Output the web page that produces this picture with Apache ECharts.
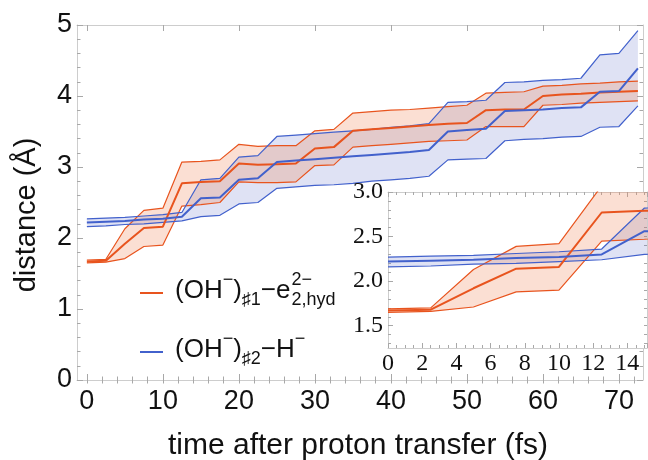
<!DOCTYPE html>
<html><head><meta charset="utf-8">
<script src="https://cdn.jsdelivr.net/npm/echarts@6/dist/echarts.min.js"></script>
<style>html,body{margin:0;padding:0;background:#fff}#c{width:648px;height:460px}</style>
</head><body><div id="c"></div>
<script>
// time after proton transfer (fs)
const times = [0, 2.5, 5, 7.5, 10, 12.5, 15, 17.5, 20, 22.5, 25, 27.5, 30, 32.5, 35, 37.5, 40, 42.5, 45, 47.5, 50, 52.5, 55, 57.5, 60, 62.5, 65, 67.5, 70, 72.5];
// (OH-)#1 - e2,hyd distance: mean and band
const e2Mean  = [1.67, 1.68, 1.92, 2.14, 2.16, 2.77, 2.79, 2.80, 3.05, 3.03, 3.04, 3.05, 3.26, 3.28, 3.51, 3.53, 3.55, 3.57, 3.59, 3.61, 3.62, 3.80, 3.81, 3.81, 4.00, 4.02, 4.03, 4.05, 4.06, 4.07];
const e2Upper = [1.69, 1.70, 2.13, 2.39, 2.42, 3.07, 3.08, 3.10, 3.32, 3.29, 3.30, 3.30, 3.51, 3.53, 3.76, 3.78, 3.80, 3.81, 3.83, 3.85, 3.87, 4.04, 4.05, 4.06, 4.14, 4.15, 4.17, 4.18, 4.20, 4.21];
const e2Lower = [1.65, 1.66, 1.71, 1.88, 1.90, 2.45, 2.47, 2.50, 2.79, 2.78, 2.78, 2.79, 3.02, 3.03, 3.28, 3.30, 3.32, 3.34, 3.36, 3.37, 3.38, 3.57, 3.57, 3.57, 3.87, 3.88, 3.90, 3.91, 3.92, 3.93];
// (OH-)#2 - H- distance: mean and band
const hMean  = [2.22, 2.23, 2.24, 2.26, 2.27, 2.30, 2.56, 2.57, 2.82, 2.84, 3.07, 3.09, 3.11, 3.13, 3.15, 3.17, 3.19, 3.21, 3.24, 3.50, 3.52, 3.54, 3.79, 3.80, 3.81, 3.83, 3.84, 4.06, 4.07, 4.39];
const hUpper = [2.27, 2.28, 2.29, 2.31, 2.33, 2.36, 2.82, 2.84, 3.14, 3.16, 3.43, 3.45, 3.47, 3.49, 3.51, 3.53, 3.56, 3.58, 3.61, 3.91, 3.92, 3.94, 4.19, 4.20, 4.22, 4.23, 4.25, 4.58, 4.60, 4.92];
const hLower = [2.16, 2.17, 2.19, 2.20, 2.22, 2.24, 2.30, 2.32, 2.48, 2.50, 2.70, 2.72, 2.74, 2.75, 2.77, 2.80, 2.82, 2.84, 2.87, 3.10, 3.11, 3.12, 3.37, 3.39, 3.40, 3.42, 3.43, 3.56, 3.57, 3.86];
// tick labels
const xTickLabels = [0, 10, 20, 30, 40, 50, 60, 70];
const yTickLabels = [0, 1, 2, 3, 4, 5];
const insetXTickLabels = [0, 2, 4, 6, 8, 10, 12, 14];
const insetYTickLabels = [1.5, 2.0, 2.5, 3.0];

const ORANGE = '#e8541e', BLUE = '#4261cc';
const ORANGE_FILL = 'rgba(239,135,91,0.27)', BLUE_FILL = 'rgba(95,110,200,0.2)';
const FRAME = '#cdcdcd', TICK = '#a8a8a8';
const SANS = '"Liberation Sans", Arial, sans-serif';
const SERIF = '"Liberation Serif", "Times New Roman", serif';

const xMinor = []; for (let v = 0; v <= 72; v += 2) xMinor.push(v);
const inYMinor = []; for (let k = 13; k <= 30; k++) inYMinor.push(k / 10);

function frameX(grid, pos, major, minor, extra) {
  const base = {
    type: 'value', gridIndex: grid, position: pos, splitLine: {show: false},
    axisLine: {show: true, onZero: false, lineStyle: {color: FRAME, width: 1}},
    axisLabel: {show: false}
  };
  return [
    Object.assign({}, base, {axisTick: {show: true, inside: true, length: 6, lineStyle: {color: TICK}, customValues: major}}, extra),
    Object.assign({}, base, {axisLine: {show: false}, axisTick: {show: true, inside: true, length: 3.5, lineStyle: {color: TICK}, customValues: minor}}, extra, {axisLabel: {show: false}})
  ];
}

const mainX = {min: -1.3, max: 73.17};

const xAxes = [];
xAxes.push(...frameX(0, 'bottom', xTickLabels, xMinor, Object.assign({}, mainX, {
  axisLabel: {show: true, customValues: xTickLabels, fontSize: 27, fontFamily: SANS, color: '#111', margin: 8}
})));
xAxes.push(...frameX(0, 'top', xTickLabels, xMinor, mainX));
xAxes.push({
  type: 'value', gridIndex: 1, position: 'bottom', min: 0, max: 15.15, interval: 2, z: 12,
  splitLine: {show: false},
  axisLine: {show: true, onZero: false, lineStyle: {color: FRAME}},
  axisTick: {show: true, inside: true, length: 5, lineStyle: {color: TICK}},
  minorTick: {show: true, splitNumber: 4, length: 3, lineStyle: {color: TICK}},
  axisLabel: {customValues: insetXTickLabels, fontSize: 24, fontFamily: SERIF, color: '#111', margin: 4}
});
xAxes.push({
  type: 'value', gridIndex: 1, position: 'top', min: 0, max: 15.15, interval: 2, z: 12,
  splitLine: {show: false},
  axisLine: {show: true, onZero: false, lineStyle: {color: FRAME}},
  axisTick: {show: true, inside: true, length: 5, lineStyle: {color: TICK}},
  minorTick: {show: true, splitNumber: 4, length: 3, lineStyle: {color: TICK}},
  axisLabel: {show: false}
});

const yAxes = [
  { type: 'value', gridIndex: 0, position: 'left', min: 0, max: 5, interval: 1,
    splitLine: {show: false},
    axisLine: {show: true, onZero: false, lineStyle: {color: FRAME}},
    axisTick: {show: true, inside: true, length: 6, lineStyle: {color: TICK}},
    minorTick: {show: true, splitNumber: 5, length: 3.5, lineStyle: {color: TICK}},
    axisLabel: {customValues: yTickLabels, fontSize: 27, fontFamily: SANS, color: '#111', margin: 5} },
  { type: 'value', gridIndex: 0, position: 'right', min: 0, max: 5, interval: 1,
    splitLine: {show: false},
    axisLine: {show: true, onZero: false, lineStyle: {color: FRAME}},
    axisTick: {show: true, inside: true, length: 6, lineStyle: {color: TICK}},
    minorTick: {show: true, splitNumber: 5, length: 3.5, lineStyle: {color: TICK}},
    axisLabel: {show: false} },
  { type: 'value', gridIndex: 1, position: 'left', min: 1.25, max: 3.0, z: 12,
    splitLine: {show: false},
    axisLine: {show: true, onZero: false, lineStyle: {color: FRAME}},
    axisTick: {show: true, inside: true, length: 5, lineStyle: {color: TICK}, customValues: insetYTickLabels},
    axisLabel: {customValues: insetYTickLabels, formatter: v => Number(v).toFixed(1), fontSize: 24, fontFamily: SERIF, color: '#111', margin: 5} },
  { type: 'value', gridIndex: 1, position: 'left', min: 1.25, max: 3.0, z: 12,
    splitLine: {show: false}, axisLine: {show: false},
    axisTick: {show: true, inside: true, length: 3, lineStyle: {color: TICK}, customValues: inYMinor},
    axisLabel: {show: false} },
  { type: 'value', gridIndex: 1, position: 'right', min: 1.25, max: 3.0, z: 12,
    splitLine: {show: false},
    axisLine: {show: true, onZero: false, lineStyle: {color: FRAME}},
    axisTick: {show: true, inside: true, length: 3, lineStyle: {color: TICK}, customValues: inYMinor},
    axisLabel: {show: false} }
];

function band(lo, hi, color, xi, yi, z) {
  return {
    type: 'custom', xAxisIndex: xi, yAxisIndex: yi, z: z, clip: true, silent: true,
    data: times.map((t, i) => [t, lo[i], hi[i]]),
    encode: {x: 0, y: [1, 2]},
    renderItem: function (params, api) {
      if (params.dataIndex !== 0) return null;
      const pts = [];
      for (let i = 0; i < times.length; i++) pts.push(api.coord([times[i], hi[i]]));
      for (let i = times.length - 1; i >= 0; i--) pts.push(api.coord([times[i], lo[i]]));
      return {type: 'polygon', shape: {points: pts}, style: {fill: color, stroke: null}};
    }
  };
}
function line(vals, color, w, xi, yi, z) {
  return {
    type: 'line', xAxisIndex: xi, yAxisIndex: yi, z: z, clip: true, silent: true,
    data: times.map((t, i) => [t, vals[i]]),
    symbol: 'none', lineStyle: {color: color, width: w}
  };
}
function group(xi, yi, z) {
  return [
    band(hLower, hUpper, BLUE_FILL, xi, yi, z),
    band(e2Lower, e2Upper, ORANGE_FILL, xi, yi, z),
    line(e2Upper, ORANGE, 1.2, xi, yi, z + 1),
    line(e2Lower, ORANGE, 1.2, xi, yi, z + 1),
    line(hUpper, BLUE, 1.2, xi, yi, z + 1),
    line(hLower, BLUE, 1.2, xi, yi, z + 1),
    line(e2Mean, ORANGE, 2, xi, yi, z + 1),
    line(hMean, BLUE, 2, xi, yi, z + 1)
  ];
}

// ---- legend text layout (measured sequentially) ----
const BIG = 26, SMALL = 18;
const measureCtx = document.createElement('canvas').getContext('2d');
function textWidth(s, size) { measureCtx.font = size + 'px ' + SANS; return measureCtx.measureText(s).width; }
function legendLine(parts, x0, yc) {
  // parts: [text, kind] kind: 'n' normal, 'sup', 'sub', 'stack' ([sup, sub])
  const out = []; let x = x0;
  parts.forEach(p => {
    const kind = p[1];
    if (kind === 'n') {
      out.push(txt(p[0], x, yc, BIG)); x += textWidth(p[0], BIG);
    } else if (kind === 'sup') {
      out.push(txt(p[0], x, yc - 11, SMALL)); x += textWidth(p[0], SMALL);
    } else if (kind === 'sub') {
      out.push(txt(p[0], x, yc + 9, SMALL)); x += textWidth(p[0], SMALL);
    } else if (kind === 'stack') {
      out.push(txt(p[0][0], x + 1, yc - 11, SMALL));
      out.push(txt(p[0][1], x + 1, yc + 9, SMALL));
      x += Math.max(textWidth(p[0][0], SMALL), textWidth(p[0][1], SMALL));
    }
  });
  return out;
}
function txt(text, x, y, size) {
  return {type: 'text', x: x, y: y, z: 30, silent: true,
    style: {text: text, fontSize: size, fontFamily: SANS, fill: '#111', align: 'left', verticalAlign: 'middle'}};
}
const legend1 = [['(OH', 'n'], ['\u2212', 'sup'], [')', 'n'], ['\u266F1', 'sub'], ['\u2212e', 'n'], [['2\u2212', '2,hyd'], 'stack']];
const legend2 = [['(OH', 'n'], ['\u2212', 'sup'], [')', 'n'], ['\u266F2', 'sub'], ['\u2212H', 'n'], ['\u2212', 'sup']];

const graphics = [
  {type: 'line', z: 30, silent: true, shape: {x1: 140, y1: 293, x2: 163, y2: 293}, style: {stroke: ORANGE, lineWidth: 2}},
  {type: 'line', z: 30, silent: true, shape: {x1: 140, y1: 352, x2: 163, y2: 352}, style: {stroke: BLUE, lineWidth: 2}}
].concat(legendLine(legend1, 175, 291), legendLine(legend2, 175, 350), [
  {type: 'text', x: 358, y: 446, z: 30, silent: true,
    style: {text: 'time after proton transfer (fs)', fontSize: 30, fontFamily: SANS, fill: '#111', align: 'center', verticalAlign: 'middle'}},
  {type: 'text', x: 27, y: 215, z: 30, rotation: Math.PI / 2, silent: true,
    style: {text: 'distance (\u00C5)', fontSize: 29, fontFamily: SANS, fill: '#111', align: 'center', verticalAlign: 'middle'}}
]);

const chart = echarts.init(document.getElementById('c'), null, {renderer: 'canvas'});
chart.setOption({
  animation: false,
  backgroundColor: '#fff',
  grid: [
    {left: 77, top: 25, width: 566, height: 355, containLabel: false},
    {left: 388, top: 192, width: 259, height: 156, show: true, backgroundColor: '#fff', borderWidth: 0, z: 10, containLabel: false}
  ],
  xAxis: xAxes,
  yAxis: yAxes,
  series: [].concat(group(0, 0, 2), group(4, 2, 13)),
  graphic: graphics
});
</script></body></html>
